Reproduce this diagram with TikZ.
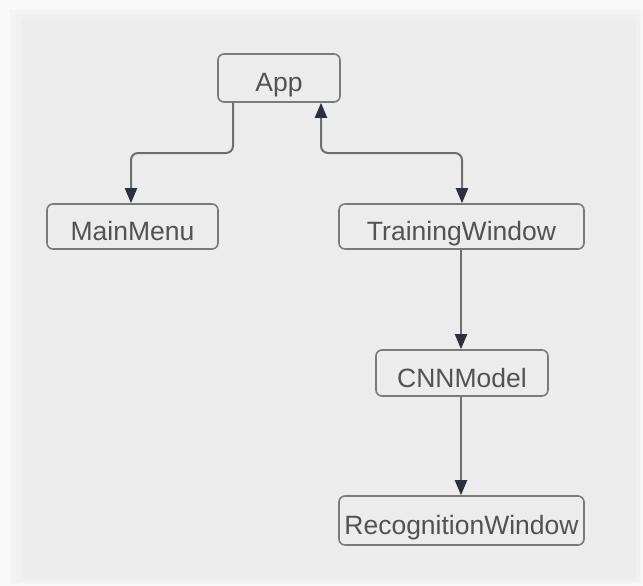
\documentclass[tikz,border=0pt]{standalone}
\usepackage{fontspec}
\setmainfont{Liberation Sans}
\usetikzlibrary{arrows.meta}
\definecolor{pagebg}{HTML}{F9F9F9}
\definecolor{panel}{HTML}{ECECEC}
\definecolor{boxline}{HTML}{7A7A7A}
\definecolor{wire}{HTML}{6E6E6E}
\definecolor{tipcol}{HTML}{2C303A}
\definecolor{txt}{HTML}{525252}
\tikzset{
  x=1pt, y=-1pt,
  cls/.style={draw=boxline, line width=1.6pt, rounded corners=6pt, fill=panel,
    text=txt, font=\fontsize{26.5}{30}\selectfont, inner sep=0pt, anchor=center,
    text height=28pt, text depth=0pt},
  tip/.style={Triangle[length=15pt,width=12pt,fill=tipcol,color=tipcol]},
  link/.style={draw=wire, line width=2pt, rounded corners=7pt, -{Triangle[length=15pt,width=12pt,fill=tipcol,color=tipcol]}},
  twolink/.style={draw=wire, line width=2pt, rounded corners=7pt,
    {Triangle[length=15pt,width=12pt,fill=tipcol,color=tipcol]}-{Triangle[length=15pt,width=12pt,fill=tipcol,color=tipcol]}}
}
\begin{document}
\begin{tikzpicture}
\useasboundingbox (0,0) rectangle (643,586);
% page and soft-edged panel
\fill[pagebg] (0,0) rectangle (643,586);
\fill[panel!40!pagebg] (10,10) rectangle (642,584);
\fill[panel!70!pagebg] (15,14) rectangle (640,582);
\fill[panel] (22,20) rectangle (636,578);

% classes
\node[cls, minimum width=122pt, minimum height=48pt] (app) at (279,78) {App};
\node[cls, minimum width=171pt, minimum height=45pt] (menu) at (132.5,226.5) {MainMenu};
\node[cls, minimum width=245pt, minimum height=45pt] (train) at (461.5,226.5) {TrainingWindow};
\node[cls, minimum width=172pt, minimum height=46pt] (cnn) at (462,373) {CNNModel};
\node[cls, minimum width=245pt, minimum height=49pt] (recog) at (461.5,520.5) {RecognitionWindow};

% connectors
\draw[link] (app.south -| 233,0) |- (131,153) -- (menu.north -| 131,0);
\draw[twolink] (app.south -| 321,0) |- (462,153) -- (train.north -| 462,0);
\draw[link] (train.south -| 461,0) -- (cnn.north -| 461,0);
\draw[link] (cnn.south -| 461,0) -- (recog.north -| 461,0);
\end{tikzpicture}
\end{document}
